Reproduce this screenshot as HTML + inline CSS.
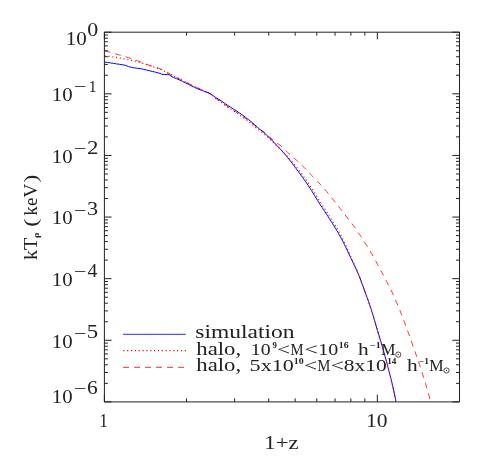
<!DOCTYPE html>
<html><head><meta charset="utf-8"><title>kT vs 1+z</title>
<style>html,body{margin:0;padding:0;background:#fff;}svg{display:block;}text{font-family:"Liberation Serif",serif;fill:#222;}</style></head><body>
<svg style="will-change:transform" width="491" height="468" viewBox="0 0 491 468">
<rect x="0" y="0" width="491" height="468" fill="#ffffff"/>
<g fill="none" stroke-linejoin="round">
<path d="M104.5,50.8 L106.0,51.2 L107.5,51.6 L109.0,52.0 L110.5,52.4 L112.0,52.9 L113.5,53.3 L115.0,53.7 L116.5,54.1 L118.0,54.6 L119.5,55.0 L121.0,55.4 L122.5,55.9 L124.0,56.3 L125.5,56.8 L127.0,57.2 L128.5,57.7 L130.0,58.2 L131.5,58.7 L133.0,59.1 L134.5,59.6 L136.0,60.1 L137.5,60.7 L139.0,61.2 L140.5,61.8 L142.0,62.4 L143.5,63.0 L145.0,63.6 L146.5,64.2 L148.0,64.8 L149.5,65.3 L151.0,65.8 L152.5,66.3 L154.0,66.7 L155.5,67.2 L157.0,67.6 L158.5,68.2 L160.0,68.7 L161.5,69.4 L163.0,70.1 L164.5,70.9 L166.0,71.8 L167.5,72.6 L169.0,73.5 L170.5,74.3 L172.0,75.1 L173.5,75.8 L175.0,76.6 L176.5,77.3 L178.0,78.1 L179.5,78.8 L181.0,79.6 L182.5,80.3 L184.0,81.1 L185.5,81.8 L187.0,82.6 L188.5,83.3 L190.0,84.1 L191.5,84.8 L193.0,85.6 L194.5,86.3 L196.0,87.0 L197.5,87.8 L199.0,88.5 L200.5,89.2 L202.0,89.9 L203.5,90.6 L205.0,91.3 L206.5,92.0 L208.0,92.7 L209.5,93.5 L211.0,94.5 L212.5,95.6 L214.0,97.0 L215.5,98.2 L217.0,99.2 L218.5,100.2 L220.0,101.1 L221.5,102.1 L223.0,103.2 L224.5,104.4 L226.0,105.5 L227.5,106.5 L229.0,107.5 L230.5,108.5 L232.0,109.5 L233.5,110.4 L235.0,111.4 L236.5,112.3 L238.0,113.3 L239.5,114.3 L241.0,115.3 L242.5,116.3 L244.0,117.4 L245.5,118.5 L247.0,119.5 L248.5,120.6 L250.0,121.6 L251.5,122.8 L253.0,124.0 L254.5,125.3 L256.0,126.5 L257.5,127.7 L259.0,128.7 L260.5,129.7 L262.0,130.7 L263.5,131.7 L265.0,132.8 L266.5,134.0 L268.0,135.3 L269.5,136.7 L271.0,138.0 L272.5,139.4 L274.0,140.9 L275.5,142.2 L277.0,143.1 L278.5,144.1 L280.0,145.1 L281.5,146.4 L283.0,147.9 L284.5,149.4 L286.0,150.9 L287.5,152.3 L289.0,153.6 L290.5,154.9 L292.0,156.2 L293.5,157.5 L295.0,158.8 L296.5,160.2 L298.0,161.5 L299.5,163.0 L301.0,164.4 L302.5,165.9 L304.0,167.4 L305.5,168.9 L307.0,170.5 L308.5,172.1 L310.0,173.7 L311.5,175.3 L313.0,176.8 L314.5,178.3 L316.0,179.8 L317.5,181.3 L319.0,182.9 L320.5,184.5 L322.0,186.1 L323.5,187.8 L325.0,189.5 L326.5,191.3 L328.0,193.1 L329.5,195.0 L331.0,196.9 L332.5,198.8 L334.0,200.7 L335.5,202.6 L337.0,204.5 L338.5,206.4 L340.0,208.3 L341.5,210.2 L343.0,212.2 L344.5,214.1 L346.0,216.1 L347.5,218.0 L349.0,220.0 L350.5,221.8 L352.0,223.7 L353.5,225.7 L355.0,227.7 L356.5,229.9 L358.0,232.2 L359.5,234.4 L361.0,236.7 L362.5,239.0 L364.0,241.3 L365.5,243.6 L367.0,246.0 L368.5,248.4 L370.0,250.8 L371.5,253.3 L373.0,256.0 L374.5,258.8 L376.0,261.6 L377.5,264.4 L379.0,267.2 L380.5,270.0 L382.0,272.7 L383.5,275.6 L385.0,278.4 L386.5,281.3 L388.0,284.2 L389.5,287.1 L391.0,290.0 L392.5,293.1 L394.0,296.4 L395.5,299.8 L397.0,303.3 L398.5,306.9 L400.0,310.7 L401.5,314.5 L403.0,318.4 L404.5,322.4 L406.0,326.4 L407.5,330.5 L409.0,334.6 L410.5,338.9 L412.0,343.1 L413.5,347.4 L415.0,351.6 L416.5,355.9 L418.0,360.2 L419.5,364.6 L421.0,369.1 L422.5,373.8 L424.0,378.6 L425.5,383.4 L427.0,388.5 L428.5,393.7 L430.0,399.0 L430.8,401.9" stroke="#ff0000" stroke-width="0.8" stroke-dasharray="5.9 5.1"/>
<path d="M104.5,62.0 L106.0,62.2 L107.5,62.5 L109.0,62.7 L110.5,62.9 L112.0,63.2 L113.5,63.4 L115.0,63.6 L116.5,63.9 L118.0,64.1 L119.5,64.3 L121.0,64.5 L122.5,64.8 L124.0,65.0 L125.5,65.4 L127.0,65.9 L128.5,66.5 L130.0,67.0 L131.5,67.4 L133.0,67.7 L134.5,67.9 L136.0,68.1 L137.5,68.3 L139.0,68.5 L140.5,68.7 L142.0,69.0 L143.5,69.3 L145.0,69.7 L146.5,70.0 L148.0,70.4 L149.5,70.8 L151.0,71.1 L152.5,71.5 L154.0,71.8 L155.5,72.2 L157.0,72.6 L158.5,73.0 L160.0,73.4 L161.5,74.1 L163.0,74.5 L164.5,74.5 L166.0,74.5 L167.5,74.6 L169.0,74.6 L170.5,75.7 L172.0,76.7 L173.5,77.4 L175.0,78.1 L176.5,78.7 L178.0,79.3 L179.5,80.0 L181.0,80.7 L182.5,81.4 L184.0,82.2 L185.5,82.9 L187.0,83.7 L188.5,84.4 L190.0,85.2 L191.5,86.0 L193.0,86.7 L194.5,87.4 L196.0,88.1 L197.5,88.7 L199.0,89.4 L200.5,89.9 L202.0,90.5 L203.5,91.0 L205.0,91.5 L206.5,92.1 L208.0,92.6 L209.5,93.2 L211.0,94.0 L212.5,95.1 L214.0,96.3 L215.5,97.4 L217.0,98.4 L218.5,99.2 L220.0,100.1 L221.5,101.0 L223.0,102.1 L224.5,103.2 L226.0,104.2 L227.5,105.2 L229.0,106.2 L230.5,107.1 L232.0,108.1 L233.5,109.1 L235.0,110.0 L236.5,111.0 L238.0,112.0 L239.5,113.0 L241.0,114.0 L242.5,115.1 L244.0,116.2 L245.5,117.3 L247.0,118.5 L248.5,119.6 L250.0,120.8 L251.5,122.0 L253.0,123.3 L254.5,124.7 L256.0,126.1 L257.5,127.4 L259.0,128.6 L260.5,129.8 L262.0,131.0 L263.5,132.2 L265.0,133.6 L266.5,135.0 L268.0,136.4 L269.5,137.8 L271.0,139.3 L272.5,140.9 L274.0,142.4 L275.5,144.0 L277.0,145.6 L278.5,147.2 L280.0,148.8 L281.5,150.4 L283.0,152.1 L284.5,153.8 L286.0,155.6 L287.5,157.4 L289.0,159.3 L290.5,161.2 L292.0,163.1 L293.5,165.1 L295.0,167.1 L296.5,169.1 L298.0,171.1 L299.5,173.2 L301.0,175.2 L302.5,177.3 L304.0,179.4 L305.5,181.5 L307.0,183.7 L308.5,185.9 L310.0,188.2 L311.5,190.6 L313.0,193.0 L314.5,195.5 L316.0,198.0 L317.5,200.4 L319.0,202.8 L320.5,205.1 L322.0,207.4 L323.5,209.7 L325.0,211.9 L326.5,214.2 L328.0,216.5 L329.5,218.9 L331.0,221.2 L332.5,223.5 L334.0,225.9 L335.5,228.3 L337.0,230.8 L338.5,233.4 L340.0,236.1 L341.5,238.8 L343.0,241.7 L344.5,244.6 L346.0,247.7 L347.5,250.8 L349.0,254.1 L350.5,257.3 L352.0,260.5 L353.5,263.6 L355.0,266.8 L356.5,270.0 L358.0,273.3 L359.5,276.9 L361.0,280.8 L362.5,284.9 L364.0,289.1 L365.5,293.2 L367.0,297.3 L368.5,301.4 L370.0,305.7 L371.5,310.3 L373.0,315.3 L374.5,320.4 L376.0,325.5 L377.5,330.5 L379.0,335.4 L380.5,340.4 L382.0,345.5 L383.5,350.7 L385.0,356.2 L386.5,361.7 L388.0,367.4 L389.5,373.1 L391.0,378.9 L392.5,385.1 L394.0,391.9 L395.5,399.3 L396.0,401.9" stroke="#0000ff" stroke-width="1.0"/>
<path d="M104.5,55.9 L106.0,56.0 L107.5,56.2 L109.0,56.4 L110.5,56.5 L112.0,56.7 L113.5,57.0 L115.0,57.2 L116.5,57.4 L118.0,57.6 L119.5,57.9 L121.0,58.2 L122.5,58.5 L124.0,58.9 L125.5,59.2 L127.0,59.5 L128.5,59.8 L130.0,60.1 L131.5,60.4 L133.0,60.7 L134.5,61.0 L136.0,61.3 L137.5,61.7 L139.0,62.1 L140.5,62.5 L142.0,63.0 L143.5,63.5 L145.0,64.1 L146.5,64.6 L148.0,65.1 L149.5,65.6 L151.0,66.1 L152.5,66.5 L154.0,67.0 L155.5,67.5 L157.0,68.0 L158.5,68.6 L160.0,69.1 L161.5,69.8 L163.0,70.5 L164.5,71.3 L166.0,72.1 L167.5,72.9 L169.0,73.7 L170.5,74.5 L172.0,75.3 L173.5,76.0 L175.0,76.8 L176.5,77.5 L178.0,78.2 L179.5,79.0 L181.0,79.7 L182.5,80.5 L184.0,81.2 L185.5,82.0 L187.0,82.8 L188.5,83.6 L190.0,84.4 L191.5,85.1 L193.0,85.9 L194.5,86.6 L196.0,87.3 L197.5,88.0 L199.0,88.6 L200.5,89.3 L202.0,90.0 L203.5,90.8 L205.0,91.5 L206.5,92.2 L208.0,92.9 L209.5,93.7 L211.0,94.6 L212.5,95.8 L214.0,97.2 L215.5,98.5 L217.0,99.5 L218.5,100.4 L220.0,101.4 L221.5,102.4 L223.0,103.6 L224.5,104.7 L226.0,105.8 L227.5,106.9 L229.0,107.9 L230.5,108.8 L232.0,109.8 L233.5,110.8 L235.0,111.8 L236.5,112.9 L238.0,113.9 L239.5,114.9 L241.0,115.9 L242.5,116.9 L244.0,118.0 L245.5,119.1 L247.0,120.3 L248.5,121.4 L250.0,122.6 L251.5,123.8 L253.0,125.1 L254.5,126.4 L256.0,127.8 L257.5,129.0 L259.0,130.1 L260.5,131.3 L262.0,132.4 L263.5,133.6 L265.0,134.9 L266.5,136.2 L268.0,137.5 L269.5,138.9 L271.0,140.3 L272.5,141.8 L274.0,143.3 L275.5,144.7 L277.0,146.1 L278.5,147.5 L280.0,148.9 L281.5,150.4 L283.0,151.8 L284.5,153.3 L286.0,154.9 L287.5,156.5 L289.0,158.2 L290.5,159.9 L292.0,161.7 L293.5,163.5 L295.0,165.3 L296.5,167.2 L298.0,169.0 L299.5,170.9 L301.0,172.9 L302.5,174.9 L304.0,177.0 L305.5,179.1 L307.0,181.2 L308.5,183.4 L310.0,185.7 L311.5,188.0 L313.0,190.4 L314.5,192.8 L316.0,195.3 L317.5,197.7 L319.0,200.0 L320.5,202.3 L322.0,204.7 L323.5,207.0 L325.0,209.3 L326.5,211.6 L328.0,213.9 L329.5,216.3 L331.0,218.7 L332.5,221.1 L334.0,223.5 L335.5,225.9 L337.0,228.4 L338.5,231.1 L340.0,233.8 L341.5,236.6 L343.0,239.6 L344.5,242.7 L346.0,245.9 L347.5,249.2 L349.0,252.6 L350.5,255.9 L352.0,259.3 L353.5,262.6 L355.0,265.8 L356.5,269.2 L358.0,272.7 L359.5,276.5 L361.0,280.5 L362.5,284.6 L364.0,288.8 L365.5,293.0 L367.0,297.2 L368.5,301.4 L370.0,305.7 L371.5,310.3 L373.0,315.3 L374.5,320.4 L376.0,325.5 L377.5,330.5 L379.0,335.4 L380.5,340.4 L382.0,345.5 L383.5,350.7 L385.0,356.2 L386.5,361.7 L388.0,367.4 L389.5,373.1 L391.0,378.9 L392.5,385.1 L394.0,392.1 L395.5,399.1 L396.1,401.9" stroke="#ff0000" stroke-width="1.15" stroke-dasharray="1.15 2.7"/>
</g>
<g fill="none">
<path d="M123.1,334.3 L185.8,334.3" stroke="#0000ff" stroke-width="0.85"/>
<path d="M123.3,350.6 L186.5,350.6" stroke="#ff0000" stroke-width="1.2" stroke-dasharray="1.2 2.64"/>
<path d="M123.1,367.3 L186,367.3" stroke="#ff0000" stroke-width="0.85" stroke-dasharray="5.9 5.1"/>
</g>
<path d="M104.4,32.2 H459.5 V401.9 H104.4 Z M104.40,401.9 v-7.2 M104.40,32.2 v7.2 M186.56,401.9 v-3.5 M186.56,32.2 v3.5 M234.62,401.9 v-3.5 M234.62,32.2 v3.5 M268.72,401.9 v-3.5 M268.72,32.2 v3.5 M295.18,401.9 v-3.5 M295.18,32.2 v3.5 M316.79,401.9 v-3.5 M316.79,32.2 v3.5 M335.06,401.9 v-3.5 M335.06,32.2 v3.5 M350.89,401.9 v-3.5 M350.89,32.2 v3.5 M364.85,401.9 v-3.5 M364.85,32.2 v3.5 M377.34,401.9 v-7.2 M377.34,32.2 v7.2 M459.50,401.9 v-3.5 M459.50,32.2 v3.5 M104.4,32.20 h7.2 M459.5,32.20 h-7.2 M104.4,75.27 h3.5 M459.5,75.27 h-3.5 M104.4,64.42 h3.5 M459.5,64.42 h-3.5 M104.4,56.72 h3.5 M459.5,56.72 h-3.5 M104.4,50.75 h3.5 M459.5,50.75 h-3.5 M104.4,45.87 h3.5 M459.5,45.87 h-3.5 M104.4,41.74 h3.5 M459.5,41.74 h-3.5 M104.4,38.17 h3.5 M459.5,38.17 h-3.5 M104.4,35.02 h3.5 M459.5,35.02 h-3.5 M104.4,93.82 h7.2 M459.5,93.82 h-7.2 M104.4,136.88 h3.5 M459.5,136.88 h-3.5 M104.4,126.03 h3.5 M459.5,126.03 h-3.5 M104.4,118.34 h3.5 M459.5,118.34 h-3.5 M104.4,112.37 h3.5 M459.5,112.37 h-3.5 M104.4,107.49 h3.5 M459.5,107.49 h-3.5 M104.4,103.36 h3.5 M459.5,103.36 h-3.5 M104.4,99.79 h3.5 M459.5,99.79 h-3.5 M104.4,96.64 h3.5 M459.5,96.64 h-3.5 M104.4,155.43 h7.2 M459.5,155.43 h-7.2 M104.4,198.50 h3.5 M459.5,198.50 h-3.5 M104.4,187.65 h3.5 M459.5,187.65 h-3.5 M104.4,179.95 h3.5 M459.5,179.95 h-3.5 M104.4,173.98 h3.5 M459.5,173.98 h-3.5 M104.4,169.10 h3.5 M459.5,169.10 h-3.5 M104.4,164.98 h3.5 M459.5,164.98 h-3.5 M104.4,161.40 h3.5 M459.5,161.40 h-3.5 M104.4,158.25 h3.5 M459.5,158.25 h-3.5 M104.4,217.05 h7.2 M459.5,217.05 h-7.2 M104.4,260.12 h3.5 M459.5,260.12 h-3.5 M104.4,249.27 h3.5 M459.5,249.27 h-3.5 M104.4,241.57 h3.5 M459.5,241.57 h-3.5 M104.4,235.60 h3.5 M459.5,235.60 h-3.5 M104.4,230.72 h3.5 M459.5,230.72 h-3.5 M104.4,226.59 h3.5 M459.5,226.59 h-3.5 M104.4,223.02 h3.5 M459.5,223.02 h-3.5 M104.4,219.87 h3.5 M459.5,219.87 h-3.5 M104.4,278.67 h7.2 M459.5,278.67 h-7.2 M104.4,321.73 h3.5 M459.5,321.73 h-3.5 M104.4,310.88 h3.5 M459.5,310.88 h-3.5 M104.4,303.19 h3.5 M459.5,303.19 h-3.5 M104.4,297.22 h3.5 M459.5,297.22 h-3.5 M104.4,292.34 h3.5 M459.5,292.34 h-3.5 M104.4,288.21 h3.5 M459.5,288.21 h-3.5 M104.4,284.64 h3.5 M459.5,284.64 h-3.5 M104.4,281.49 h3.5 M459.5,281.49 h-3.5 M104.4,340.28 h7.2 M459.5,340.28 h-7.2 M104.4,383.35 h3.5 M459.5,383.35 h-3.5 M104.4,372.50 h3.5 M459.5,372.50 h-3.5 M104.4,364.80 h3.5 M459.5,364.80 h-3.5 M104.4,358.83 h3.5 M459.5,358.83 h-3.5 M104.4,353.95 h3.5 M459.5,353.95 h-3.5 M104.4,349.83 h3.5 M459.5,349.83 h-3.5 M104.4,346.25 h3.5 M459.5,346.25 h-3.5 M104.4,343.10 h3.5 M459.5,343.10 h-3.5 M104.4,401.90 h7.2 M459.5,401.90 h-7.2" fill="none" stroke="#222" stroke-width="1"/>
<text x="65.77" y="44.50" font-size="18.3" textLength="21.03" lengthAdjust="spacingAndGlyphs">10</text>
<text x="87.17" y="35.70" font-size="17.8" textLength="10.97" lengthAdjust="spacingAndGlyphs">0</text>
<text x="51.89" y="101.22" font-size="18.3" textLength="20.80" lengthAdjust="spacingAndGlyphs">10</text>
<text x="73.92" y="92.32" font-size="17.5" textLength="12.44" lengthAdjust="spacingAndGlyphs">−</text>
<text x="88.84" y="92.12" font-size="17.5" textLength="7.79" lengthAdjust="spacingAndGlyphs">1</text>
<text x="51.89" y="162.83" font-size="18.3" textLength="20.80" lengthAdjust="spacingAndGlyphs">10</text>
<text x="73.92" y="153.93" font-size="17.5" textLength="12.44" lengthAdjust="spacingAndGlyphs">−</text>
<text x="87.02" y="153.63" font-size="17.8" textLength="11.44" lengthAdjust="spacingAndGlyphs">2</text>
<text x="51.89" y="224.45" font-size="18.3" textLength="20.80" lengthAdjust="spacingAndGlyphs">10</text>
<text x="73.92" y="215.55" font-size="17.5" textLength="12.44" lengthAdjust="spacingAndGlyphs">−</text>
<text x="86.96" y="215.25" font-size="17.8" textLength="11.11" lengthAdjust="spacingAndGlyphs">3</text>
<text x="51.89" y="286.07" font-size="18.3" textLength="20.80" lengthAdjust="spacingAndGlyphs">10</text>
<text x="73.92" y="277.17" font-size="17.5" textLength="12.44" lengthAdjust="spacingAndGlyphs">−</text>
<text x="87.62" y="276.87" font-size="17.8" textLength="9.87" lengthAdjust="spacingAndGlyphs">4</text>
<text x="51.89" y="347.68" font-size="18.3" textLength="20.80" lengthAdjust="spacingAndGlyphs">10</text>
<text x="73.92" y="338.78" font-size="17.5" textLength="12.44" lengthAdjust="spacingAndGlyphs">−</text>
<text x="86.68" y="338.48" font-size="17.8" textLength="11.41" lengthAdjust="spacingAndGlyphs">5</text>
<text x="51.89" y="402.80" font-size="18.3" textLength="20.80" lengthAdjust="spacingAndGlyphs">10</text>
<text x="73.92" y="393.90" font-size="17.5" textLength="12.44" lengthAdjust="spacingAndGlyphs">−</text>
<text x="87.10" y="393.60" font-size="17.8" textLength="10.72" lengthAdjust="spacingAndGlyphs">6</text>
<text x="99.30" y="427.10" font-size="18.3" textLength="8.64" lengthAdjust="spacingAndGlyphs">1</text>
<text x="366.02" y="427.10" font-size="18.3" textLength="21.60" lengthAdjust="spacingAndGlyphs">10</text>
<text x="264.33" y="448.90" font-size="19.3" textLength="34.10" lengthAdjust="spacingAndGlyphs">1+z</text>
<g transform="translate(36.8,0) rotate(-90)">
<text x="-260.08" y="0.00" font-size="19.2" textLength="22.40" lengthAdjust="spacingAndGlyphs">kT</text>
<text x="-238.00" y="1.70" font-size="8.2" textLength="5.40" lengthAdjust="spacingAndGlyphs" font-weight="bold">ρ</text>
<text x="-226.83" y="0.00" font-size="19.6" textLength="8.00" lengthAdjust="spacingAndGlyphs">(</text>
<text x="-215.66" y="0.00" font-size="19.4" textLength="31.87" lengthAdjust="spacingAndGlyphs">keV</text>
<text x="-182.46" y="0.00" font-size="19.6" textLength="7.87" lengthAdjust="spacingAndGlyphs">)</text>
</g>
<text x="195.34" y="338.20" font-size="18.2" textLength="99.12" lengthAdjust="spacingAndGlyphs">simulation</text>
<text x="196.30" y="354.70" font-size="18.2" textLength="44.81" lengthAdjust="spacingAndGlyphs">halo,</text>
<text x="250.88" y="354.70" font-size="17.3" textLength="19.77" lengthAdjust="spacingAndGlyphs">10</text>
<text x="272.57" y="347.80" font-size="8.4" textLength="4.35" lengthAdjust="spacingAndGlyphs" font-weight="bold">9</text>
<text x="277.07" y="354.70" font-size="17.3" textLength="13.04" lengthAdjust="spacingAndGlyphs">&lt;</text>
<text x="290.59" y="354.70" font-size="17.3" textLength="13.04" lengthAdjust="spacingAndGlyphs">M</text>
<text x="304.45" y="354.70" font-size="17.3" textLength="13.28" lengthAdjust="spacingAndGlyphs">&lt;</text>
<text x="318.26" y="354.70" font-size="17.3" textLength="20.00" lengthAdjust="spacingAndGlyphs">10</text>
<text x="338.81" y="347.80" font-size="8.4" textLength="9.88" lengthAdjust="spacingAndGlyphs" font-weight="bold">16</text>
<text x="357.91" y="354.70" font-size="17.6" textLength="10.67" lengthAdjust="spacingAndGlyphs">h</text>
<text x="370.08" y="347.80" font-size="8.4" textLength="10.73" lengthAdjust="spacingAndGlyphs" font-weight="bold">−1</text>
<text x="380.95" y="354.70" font-size="17.3" textLength="14.43" lengthAdjust="spacingAndGlyphs">M</text>
<text x="196.30" y="371.30" font-size="18.2" textLength="44.81" lengthAdjust="spacingAndGlyphs">halo,</text>
<text x="249.62" y="371.30" font-size="17.3" textLength="44.22" lengthAdjust="spacingAndGlyphs">5x10</text>
<text x="293.81" y="364.40" font-size="8.4" textLength="9.86" lengthAdjust="spacingAndGlyphs" font-weight="bold">10</text>
<text x="304.07" y="371.30" font-size="17.3" textLength="13.04" lengthAdjust="spacingAndGlyphs">&lt;</text>
<text x="317.60" y="371.30" font-size="17.3" textLength="12.82" lengthAdjust="spacingAndGlyphs">M</text>
<text x="330.65" y="371.30" font-size="17.3" textLength="13.28" lengthAdjust="spacingAndGlyphs">&lt;</text>
<text x="343.78" y="371.30" font-size="17.3" textLength="42.93" lengthAdjust="spacingAndGlyphs">8x10</text>
<text x="387.27" y="364.40" font-size="8.4" textLength="9.09" lengthAdjust="spacingAndGlyphs" font-weight="bold">14</text>
<text x="407.01" y="371.30" font-size="17.6" textLength="10.67" lengthAdjust="spacingAndGlyphs">h</text>
<text x="419.01" y="364.40" font-size="8.4" textLength="10.07" lengthAdjust="spacingAndGlyphs" font-weight="bold">−1</text>
<text x="429.15" y="371.30" font-size="17.3" textLength="14.32" lengthAdjust="spacingAndGlyphs">M</text>
<circle cx="398.3" cy="354.6" r="2.6" fill="none" stroke="#222" stroke-width="0.8"/>
<circle cx="398.3" cy="354.6" r="0.7" fill="#222"/>
<circle cx="446.5" cy="370.5" r="2.6" fill="none" stroke="#222" stroke-width="0.8"/>
<circle cx="446.5" cy="370.5" r="0.7" fill="#222"/>
</svg></body></html>
